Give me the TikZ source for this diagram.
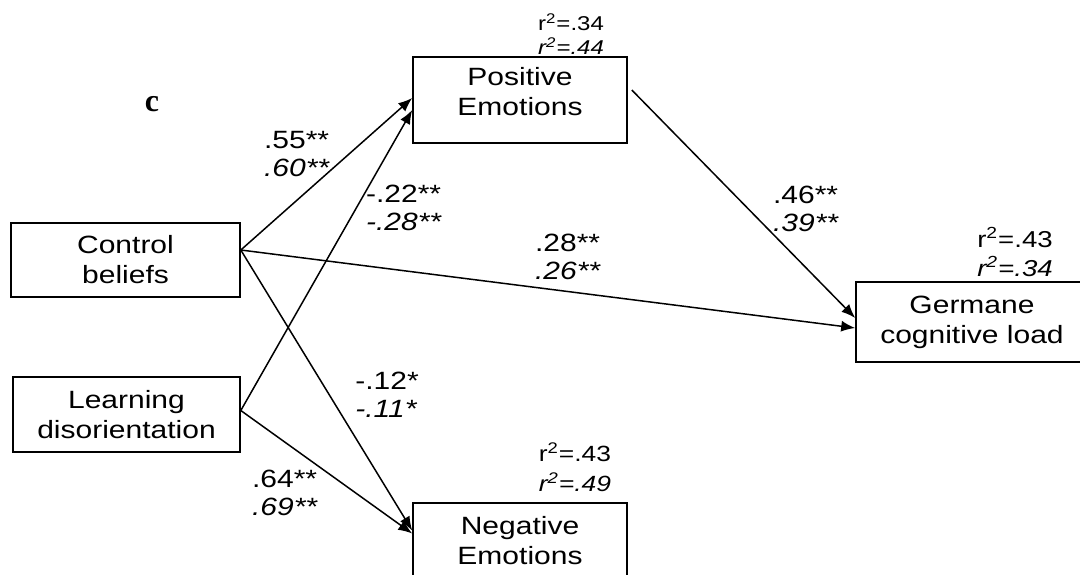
\documentclass[tikz,border=0pt]{standalone}
\usepackage{fontspec}
\setmainfont{Liberation Sans}[FakeStretch=1.2]
\newfontfamily\panelfont{Liberation Serif}
\usepackage{tikz}
\usetikzlibrary{arrows.meta}
\newcommand{\coef}[2]{#1\\\textit{#2}}
\newcommand{\rsq}[2]{r\textsuperscript{2}=#1\\\textit{r\textsuperscript{2}=#2}}

\begin{document}
\begin{tikzpicture}[x=0.5pt, y=-0.5pt, line width=0.75pt,
    >={Latex[length=7pt,width=5.5pt]},
    box/.style={rectangle, draw, line width=0.8pt, align=center, inner sep=0pt,
        font=\fontsize{12.5}{15}\selectfont},
    coeflabel/.style={align=left, inner sep=0pt, font=\fontsize{12.5}{14}\selectfont}]
    \useasboundingbox (0,0) rectangle (1080,574);
    \clip (0,0) rectangle (1080,574);
    \node (control)   at (125.5,260) [box, minimum width=114.5pt, minimum height=37pt]   {Control\\beliefs};
    \node (disorient) at (126.5,414.5) [box, minimum width=113.5pt, minimum height=37.5pt] {Learning\\disorientation};
    \node (posemo)    at (520,100)   [box, minimum width=107pt, minimum height=43pt, text depth=9pt] {Positive\\Emotions};
    \node (negemo)    at (520,540.5) [box, minimum width=107pt, minimum height=37.5pt]   {Negative\\Emotions};
    \node (germane)   at (972,322)   [box, minimum width=116pt, minimum height=40pt]     {Germane\\cognitive load};
    \node (panel)     at (152,104)   {\panelfont\bfseries\fontsize{16}{18}\selectfont c};
    % paths
    \draw[->] ([yshift=5pt]control.east) -- ([yshift=1pt]posemo.west);
    \draw[->] ([yshift=2pt]disorient.east) -- ([yshift=-5pt]posemo.west);
    \draw[->] ([yshift=5pt]control.east) -- ([yshift=5pt]negemo.west);
    \draw[->] ([yshift=2pt]disorient.east) -- ([yshift=3.5pt]negemo.west);
    \draw[->] ([yshift=5pt]control.east) -- ([yshift=-3pt]germane.west);
    \draw[->] ([xshift=2pt,yshift=5pt]posemo.east) -- ([yshift=2pt]germane.west);
    % coefficients
    \node (lab55) at (297,154) [coeflabel] {\coef{.55**}{.60**}};
    \node (lab22) at (404,208) [coeflabel] {\coef{-.22**}{-.28**}};
    \node (lab28) at (568,257) [coeflabel] {\coef{.28**}{.26**}};
    \node (lab46) at (806,209) [coeflabel] {\coef{.46**}{.39**}};
    \node (lab12) at (387,395) [coeflabel] {\coef{-.12*}{-.11*}};
    \node (lab64) at (285,493) [coeflabel] {\coef{.64**}{.69**}};
    % explained variance
    \node (rpos) at (571,34)   [align=right, inner sep=0pt, font=\fontsize{10}{12}\selectfont]     {\rsq{.34}{.44}};
    \node (rneg) at (575,467)  [align=right, inner sep=0pt, font=\fontsize{11}{15}\selectfont]     {\rsq{.43}{.49}};
    \node (rger) at (1015,252) [align=right, inner sep=0pt, font=\fontsize{11.5}{14.5}\selectfont] {\rsq{.43}{.34}};
\end{tikzpicture}
\end{document}
